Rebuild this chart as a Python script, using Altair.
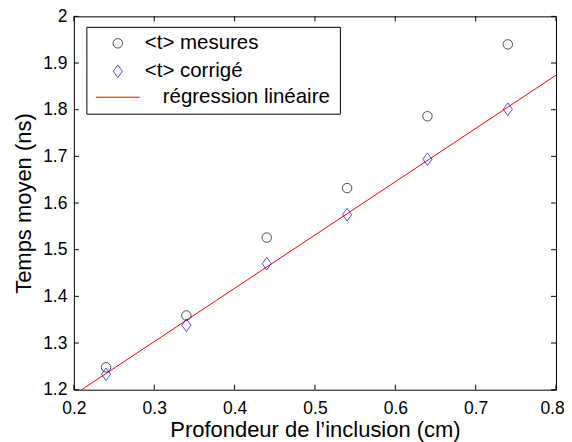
import altair as alt
import pandas as pd

# ---- data ----
x_depth = [0.24, 0.34, 0.44, 0.54, 0.64, 0.74]
t_mesures = [1.248, 1.359, 1.526, 1.632, 1.786, 1.940]
t_corrige = [1.233, 1.338, 1.470, 1.575, 1.694, 1.801]
fit_x = [0.2, 0.8]
fit_y = [1.189, 1.874]
legend_labels = ["<t> mesures", "<t> corrigé", "régression linéaire"]
x_ticks = [0.2, 0.3, 0.4, 0.5, 0.6, 0.7, 0.8]
y_ticks = [1.2, 1.3, 1.4, 1.5, 1.6, 1.7, 1.8, 1.9, 2.0]
x_title = "Profondeur de l’inclusion (cm)"
y_title = "Temps moyen (ns)"

W, H = 483, 374
FONT = "Liberation Sans"
TICK = 5
LEG_FS = 20.5

meas = pd.DataFrame({"x": x_depth, "y": t_mesures})
corr = pd.DataFrame({"x": x_depth, "y": t_corrige})
fit = pd.DataFrame({"x": fit_x, "y": fit_y})
xt = pd.DataFrame({"v": x_ticks})
yt = pd.DataFrame({"v": y_ticks})

xs = alt.Scale(domain=[0.2, 0.8], nice=False, zero=False)
ys = alt.Scale(domain=[1.2, 2.0], nice=False, zero=False)

X = alt.X("x:Q", scale=xs, axis=alt.Axis(
    values=x_ticks, format=".1~f", ticks=False, domain=False, grid=False,
    labelFlush=False, labelOverlap=False,
    labelOffset=alt.condition("datum.value >= 0.79", alt.value(-4), alt.value(0)),
    labelFontSize=17.5, labelFont=FONT, labelColor="black", labelPadding=10,
    title=x_title, titleFontSize=22, titleFont=FONT, titleFontWeight="normal",
    titleColor="black", titlePadding=2))
Y = alt.Y("y:Q", scale=ys, axis=alt.Axis(
    values=y_ticks, format=".1~f", ticks=False, domain=False, grid=False,
    labelFlush=False, labelOverlap=False,
    labelFontSize=17.5, labelFont=FONT, labelColor="black", labelPadding=7,
    title=y_title, titleFontSize=22, titleFont=FONT, titleFontWeight="normal",
    titleColor="black", titleX=-38, titleY=H / 2, titleAngle=-90,
    titleBaseline="bottom", titleAlign="center"))

diamond = "M0,-1L0.72,0L0,1L-0.72,0Z"

line = alt.Chart(fit).mark_line(color="#ff0000", strokeWidth=1, clip=True).encode(x=X, y=Y)
pts_m = alt.Chart(meas).mark_point(shape="circle", size=90, filled=False,
                                   color="black", strokeWidth=1).encode(x=X, y=Y)
pts_c = alt.Chart(corr).mark_point(shape=diamond, size=160, filled=False,
                                   color="#0000ff", strokeWidth=1).encode(x=X, y=Y)

# inward ticks on all four sides (box style)
tb = alt.Chart(xt).mark_rule(color="black").encode(
    x=alt.X("v:Q", scale=xs), y=alt.value(H), y2=alt.value(H - TICK))
tt = alt.Chart(xt).mark_rule(color="black").encode(
    x=alt.X("v:Q", scale=xs), y=alt.value(0), y2=alt.value(TICK))
tl = alt.Chart(yt).mark_rule(color="black").encode(
    y=alt.Y("v:Q", scale=ys), x=alt.value(0), x2=alt.value(TICK))
tr = alt.Chart(yt).mark_rule(color="black").encode(
    y=alt.Y("v:Q", scale=ys), x=alt.value(W), x2=alt.value(W - TICK))

# legend box
leg_df = pd.DataFrame({"label": legend_labels})
box = alt.Chart(leg_df.head(1)).mark_rect(fill="white", stroke="black", strokeWidth=1).encode(
    x=alt.value(13), x2=alt.value(267), y=alt.value(11), y2=alt.value(98))
sym1 = alt.Chart(leg_df.head(1)).mark_point(shape="circle", size=90, filled=False,
                                            color="black", strokeWidth=1).encode(
    x=alt.value(44), y=alt.value(27))
sym2 = alt.Chart(leg_df.head(1)).mark_point(shape=diamond, size=160, filled=False,
                                            color="#0000ff", strokeWidth=1).encode(
    x=alt.value(44), y=alt.value(55))
sym3 = alt.Chart(leg_df.head(1)).mark_rule(color="#ff0000", strokeWidth=1).encode(
    x=alt.value(22), x2=alt.value(66), y=alt.value(81))
lt1 = alt.Chart(leg_df.iloc[[0]]).mark_text(align="left", baseline="middle", font=FONT,
                                            fontSize=LEG_FS, color="black").encode(
    text="label:N", x=alt.value(71), y=alt.value(27))
lt2 = alt.Chart(leg_df.iloc[[1]]).mark_text(align="left", baseline="middle", font=FONT,
                                            fontSize=LEG_FS, color="black").encode(
    text="label:N", x=alt.value(71), y=alt.value(55))
lt3 = alt.Chart(leg_df.iloc[[2]]).mark_text(align="left", baseline="middle", font=FONT,
                                            fontSize=LEG_FS, color="black").encode(
    text="label:N", x=alt.value(89), y=alt.value(81))

chart = alt.layer(line, pts_m, pts_c, tb, tt, tl, tr, box, sym1, sym2, sym3, lt1, lt2, lt3).properties(
    width=W, height=H,
    autosize=alt.AutoSizeParams(type="none"),
    padding={"left": 66, "top": 8, "right": 8, "bottom": 52},
    background="white",
).configure_view(stroke="black", strokeWidth=1)

chart.save("out.html", embed_options={"renderer": "svg", "actions": False})
